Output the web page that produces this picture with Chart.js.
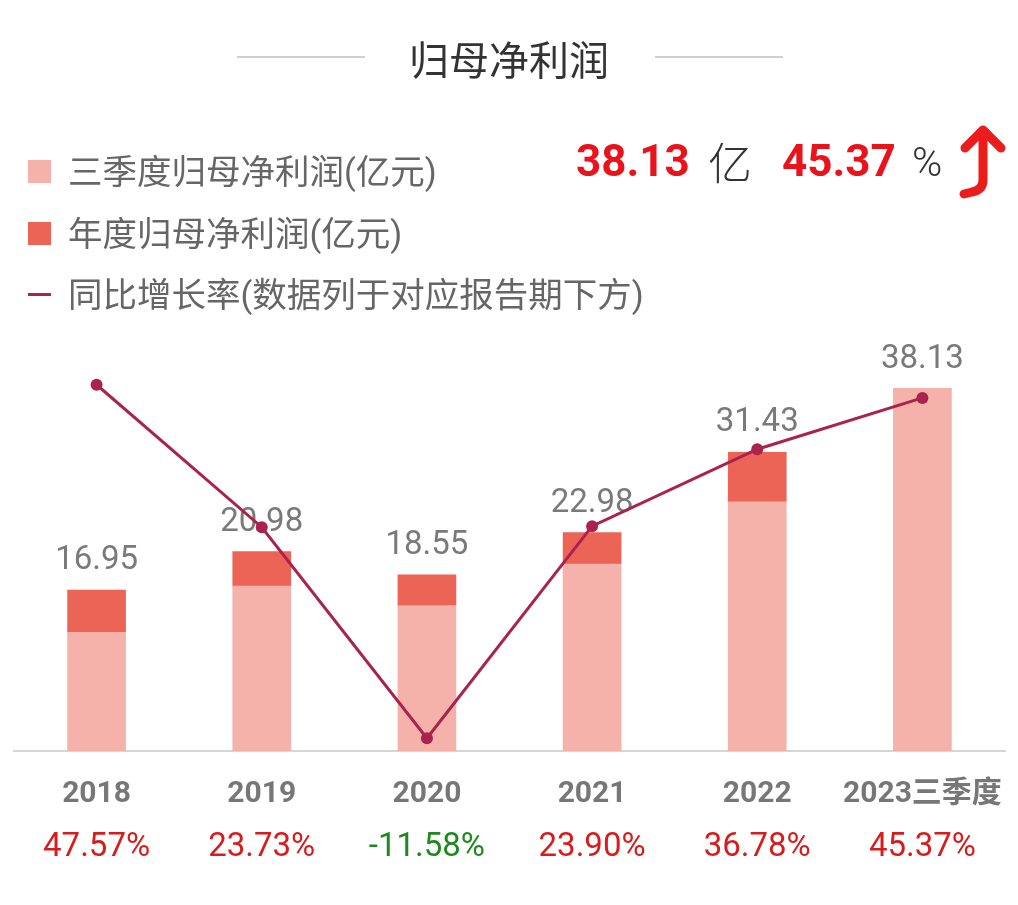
<!DOCTYPE html>
<html>
<head>
<meta charset="utf-8">
<script src="https://cdn.jsdelivr.net/npm/chart.js@4.4.1/dist/chart.umd.min.js"></script>
<style>
  html, body { margin: 0; padding: 0; background: #ffffff; }
  #wrap { position: relative; width: 1018px; height: 905px; overflow: hidden; font-family: Roboto, "Noto Sans CJK SC", sans-serif; }
  #chart { position: absolute; left: 0; top: 0; }
  .abs { position: absolute; white-space: nowrap; }
  .title { left: 0; width: 1018px; top: 34px; text-align: center; font-size: 40px; color: #333; font-family: "Noto Sans CJK SC", sans-serif; line-height: 48px; }
  .tline { height: 2px; background: #d0d0d0; top: 56px; width: 128px; }
  .leg { left: 28px; font-size: 34.5px; color: #666; line-height: 44px; font-family: Roboto, "Noto Sans CJK SC", sans-serif; }
  .leg .box { display: inline-block; width: 23px; height: 23px; vertical-align: middle; margin-right: 17px; position: relative; top: -3px; }
  .leg .dash { display: inline-block; width: 23px; height: 3px; vertical-align: middle; margin-right: 17px; background: #a8244c; position: relative; top: -3px; }
  .big { top: 133px; font-size: 44px; line-height: 56px; }
  .red { color: #e8131b; font-weight: bold; font-family: Roboto, sans-serif; }
  .dark { color: #333; font-family: "Noto Sans CJK SC", sans-serif; font-weight: 300; }
</style>
</head>
<body>
<div id="wrap">
  <canvas id="chart" width="1018" height="905"></canvas>
  <div class="abs title">归母净利润</div>
  <div class="abs tline" style="left:237px"></div>
  <div class="abs tline" style="left:655px"></div>

  <div class="abs leg" style="top:150px"><span class="box" style="background:#f5b2ab"></span>三季度归母净利润(亿元)</div>
  <div class="abs leg" style="top:212px"><span class="box" style="background:#ec6455"></span>年度归母净利润(亿元)</div>
  <div class="abs leg" style="top:273px"><span class="dash"></span>同比增长率(数据列于对应报告期下方)</div>

  <div class="abs big red" style="left:576px">38.13</div>
  <div class="abs big dark" style="left:708px">亿</div>
  <div class="abs big red" style="left:782px">45.37</div>
  <div class="abs big dark" style="left:912px; font-family: Roboto, sans-serif; font-size:41px; top:134px;">%</div>
  <svg class="abs" style="left:950px; top:118px" width="64" height="90" viewBox="0 0 64 90">
    <path d="M15 30 L33 12 L51 30" fill="none" stroke="#ec1c1c" stroke-width="9" stroke-linecap="round" stroke-linejoin="round"/>
    <path d="M33 13 L33 62 Q33 72 22 74 L14 76" fill="none" stroke="#ec1c1c" stroke-width="9" stroke-linecap="round" stroke-linejoin="round"/>
  </svg>
</div>
<script>
const categories = ['2018', '2019', '2020', '2021', '2022', '2023三季度'];
const q3Profit = [12.49, 17.35, 15.31, 19.68, 26.22, 38.13];
const annualProfit = [16.95, 20.98, 18.55, 22.98, 31.43, null];
const growthRate = [47.57, 23.73, -11.58, 23.90, 36.78, 45.37];
const growthLabels = ['47.57%', '23.73%', '-11.58%', '23.90%', '36.78%', '45.37%'];

const annualExtra = annualProfit.map((v, i) => v == null ? 0 : +(v - q3Profit[i]).toFixed(2));
const totalLabels = annualProfit.map((v, i) => (v == null ? q3Profit[i] : v).toFixed(2));

const labelPlugin = {
  id: 'labels',
  beforeDatasetsDraw(chart) {
    const ctx = chart.ctx;
    const meta = chart.getDatasetMeta(2);
    ctx.save();
    ctx.font = '33px Roboto';
    ctx.fillStyle = '#7a7a7a';
    ctx.textAlign = 'center';
    ctx.textBaseline = 'alphabetic';
    meta.data.forEach((el, i) => {
      ctx.fillText(totalLabels[i], el.x, el.y - 21);
    });
    ctx.restore();
  },
  afterDraw(chart) {
    const ctx = chart.ctx;
    const xs = chart.scales.x;
    ctx.save();
    ctx.font = '33px Roboto';
    ctx.textAlign = 'center';
    ctx.textBaseline = 'middle';
    growthRate.forEach((v, i) => {
      ctx.fillStyle = v < 0 ? '#1e8a1e' : '#d61c1c';
      ctx.fillText(growthLabels[i], xs.getPixelForValue(i), 848);
    });
    ctx.restore();
  }
};

new Chart(document.getElementById('chart'), {
  data: {
    labels: categories,
    datasets: [
      {
        type: 'line',
        label: '同比增长率(数据列于对应报告期下方)',
        data: growthRate,
        yAxisID: 'y1',
        borderColor: '#a9234d',
        backgroundColor: '#a9234d',
        borderWidth: 3,
        pointRadius: 6,
        pointBackgroundColor: '#a9234d',
        pointBorderWidth: 0,
        tension: 0,
        order: 0
      },
      {
        type: 'bar',
        label: '三季度归母净利润(亿元)',
        data: q3Profit,
        yAxisID: 'y',
        backgroundColor: '#f5b2ab',
        barThickness: 58,
        order: 1
      },
      {
        type: 'bar',
        label: '年度归母净利润(亿元)',
        data: annualExtra,
        yAxisID: 'y',
        backgroundColor: '#ec6455',
        barThickness: 58,
        order: 1
      }
    ]
  },
  options: {
    responsive: false,
    animation: false,
    devicePixelRatio: 1,
    layout: { padding: { top: 333, left: 14, right: 13, bottom: 68 } },
    plugins: { legend: { display: false }, tooltip: { enabled: false }, title: { display: false } },
    scales: {
      x: {
        stacked: true,
        grid: { display: false, drawTicks: false },
        border: { display: true, color: '#d6d6d6', width: 2 },
        afterFit(scale) { scale.paddingLeft = 0; scale.paddingRight = 0; },
        ticks: {
          color: '#777777',
          font: { family: 'Roboto, "Noto Sans CJK SC"', size: 30, weight: 'bold' },
          padding: 25,
          maxRotation: 0,
          autoSkip: false
        }
      },
      y: {
        stacked: true,
        display: false,
        min: 0,
        max: 44
      },
      y1: {
        display: false,
        position: 'right',
        min: -13.72,
        max: 56.23
      }
    }
  },
  plugins: [labelPlugin]
});
</script>
</body>
</html>
